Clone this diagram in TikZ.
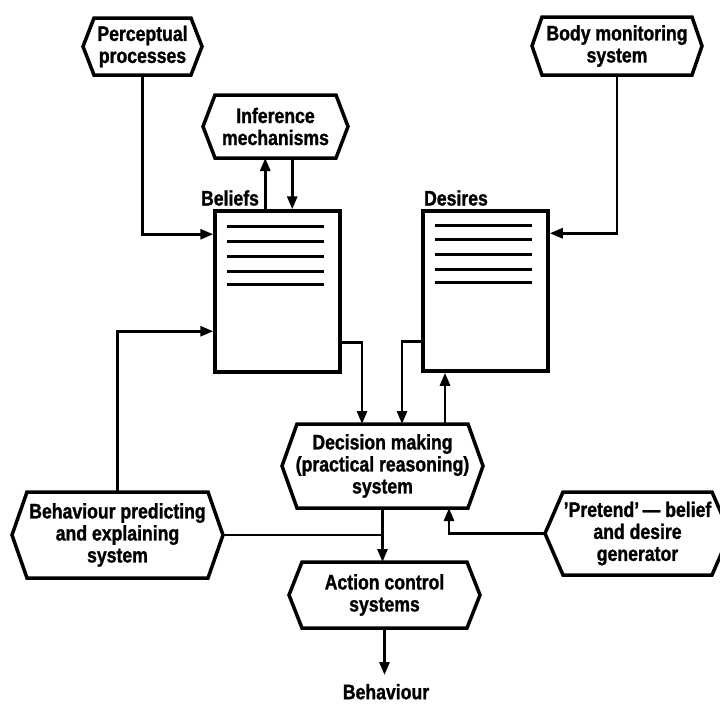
\documentclass[tikz,border=0pt]{standalone}
\usepackage{fontspec}
\setmainfont{Liberation Sans}[FakeStretch=0.84, BoldFeatures={FakeStretch=0.84, FakeBold=1.2}]
\usetikzlibrary{arrows.meta,calc}
\tikzset{
  lbl/.style={font=\bfseries\fontsize{21}{22}\selectfont, align=center, inner sep=0pt, outer sep=0pt},
  hextext/.style={lbl},
  hexline/.style={draw=black, line width=3.5pt, line join=miter},
  docbox/.style={draw=black, line width=3.5pt, inner sep=0pt},
  docline/.style={line width=3pt},
  arr/.style={line width=2.8pt, -{Triangle[length=13pt,width=10pt]}},
  conn/.style={line width=2.8pt},
}
\newcommand{\hexbox}[7]{%
  \node[hextext, minimum width=#4pt, minimum height=#5pt] (#1) at (#2,#3) {#7};
  \draw[hexline] (#1.west) -- ([xshift=#6pt]#1.north west) -- ([xshift=-#6pt]#1.north east)
    -- (#1.east) -- ([xshift=-#6pt]#1.south east) -- ([xshift=#6pt]#1.south west) -- cycle;
}
\begin{document}
\begin{tikzpicture}[x=1pt,y=-1pt]
\useasboundingbox[fill=white] (0,0) rectangle (720,704);

% hexagon boxes
\hexbox{perc}{142.5}{46.5}{119}{57}{11}{Perceptual\\processes}
\hexbox{body}{617}{46}{170}{58}{10}{Body monitoring\\system}
\hexbox{infer}{275.5}{126.5}{145}{63}{12}{Inference\\mechanisms}
\hexbox{decision}{382.5}{466}{201}{84}{15}{Decision making\\(practical reasoning)\\system}
\hexbox{behav}{117.5}{535}{211}{86}{15}{Behaviour predicting\\and explaining\\system}
\hexbox{pretend}{637.5}{533.5}{185}{83}{18}{'Pretend'\,--- belief\\and desire\\generator}
\hexbox{action}{384.5}{595}{191}{66}{13}{Action control\\systems}

% document boxes
\node[docbox, minimum width=125pt, minimum height=161pt] (beliefs) at (277.5,291.5) {};
\node[docbox, minimum width=125pt, minimum height=160pt] (desires) at (485.5,291) {};
\foreach \yy in {17,32,47,62,75} {
  \draw[docline] ($(beliefs.north west)+(14,\yy)$) -- ($(beliefs.north west)+(111,\yy)$);
}
\foreach \yy in {16,30,45,60,73} {
  \draw[docline] ($(desires.north west)+(14,\yy)$) -- ($(desires.north west)+(111,\yy)$);
}

% labels
\node[lbl] (beliefslbl) at (230,198) {Beliefs};
\node[lbl] (desireslbl) at (456,198) {Desires};
\node[lbl, anchor=north, inner ysep=9pt] (behtxt) at (386,675) {Behaviour};

% connectors
\draw[arr] (perc.south) |- ($(beliefs.north west)+(0,25)$);
\draw[arr] (body.south) |- ($(desires.north east)+(0,24)$);

\coordinate (bUp) at ($(beliefs.north west)+(52,0)$);
\coordinate (bDn) at ($(beliefs.north west)+(79,0)$);
\draw[arr] (bUp) -- (bUp |- infer.south);
\draw[arr] (bDn |- infer.south) -- (bDn);

\draw[arr] ($(beliefs.north east)+(0,133)$) -| ($(decision.north west)+(80,0)$);
\draw[arr] ($(desires.north west)+(0,132)$) -| ($(decision.north west)+(120,0)$);
\coordinate (dUp) at ($(decision.north west)+(163,0)$);
\draw[arr] (dUp) -- (dUp |- desires.south);

\draw[arr] (behav.north) |- ($(beliefs.north west)+(0,122)$);
\draw[conn] (behav.east) -- (behav.east -| decision.south);
\draw[arr] (decision.south) -- (decision.south |- action.north);
\draw[arr] (pretend.west) -| ($(decision.south west)+(167,0)$);

\draw[arr] (action.south) -- (action.south |- behtxt.north);
\end{tikzpicture}
\end{document}
